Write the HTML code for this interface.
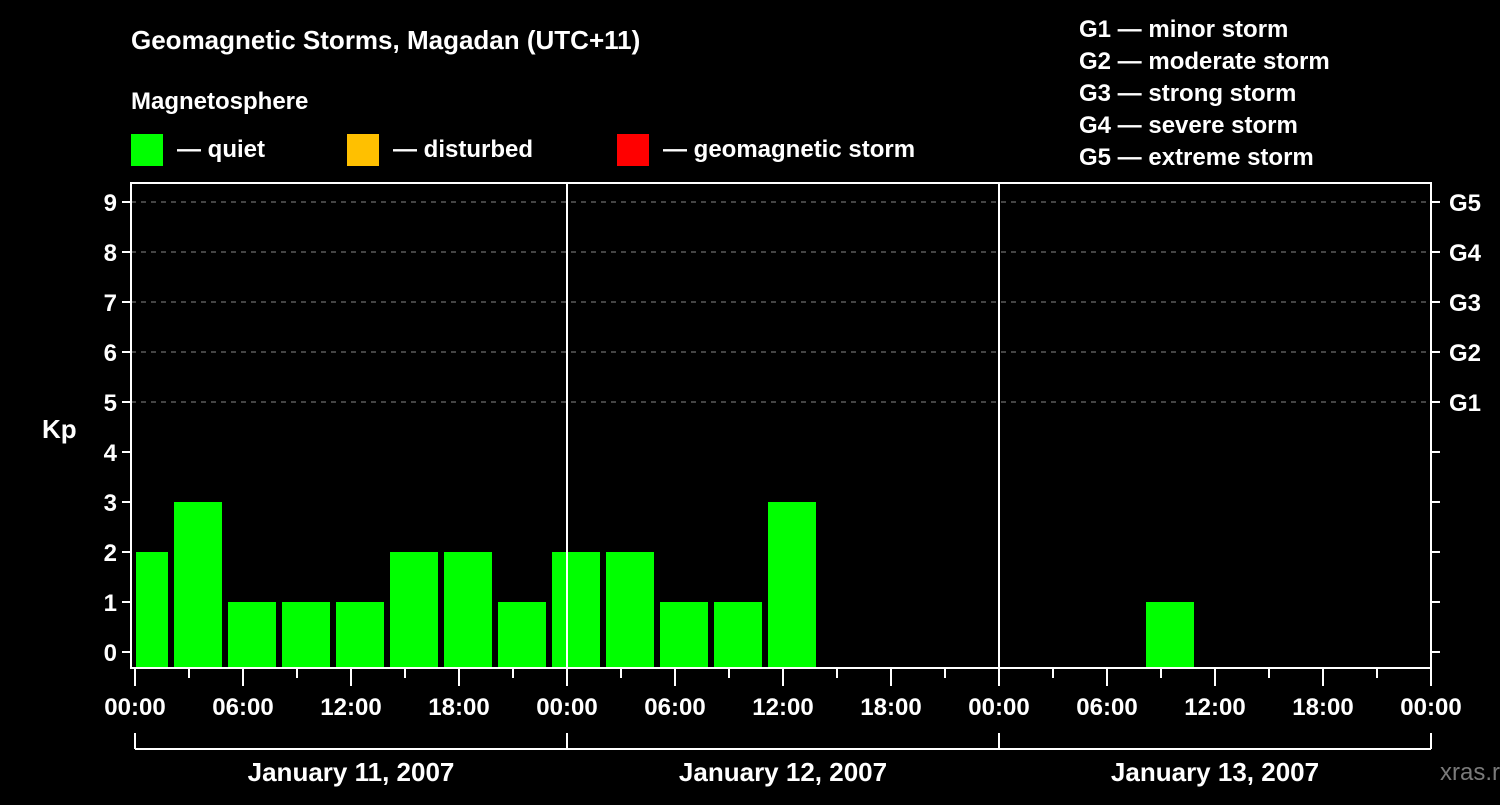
<!DOCTYPE html>
<html><head><meta charset="utf-8"><style>
body{margin:0;background:#000;width:1500px;height:800px;overflow:hidden}
svg text{font-family:"Liberation Sans",sans-serif;font-weight:bold;fill:#fff}
</style></head><body>
<svg id="c" width="1500" height="800">
<text x="131" y="49" font-size="26">Geomagnetic Storms, Magadan (UTC+11)</text>
<text x="131" y="109" font-size="24">Magnetosphere</text>
<g><rect x="131" y="134" width="32" height="32" fill="#00ff00"/><text x="177" y="157" font-size="24">— quiet</text></g>
<g><rect x="347" y="134" width="32" height="32" fill="#ffc000"/><text x="393" y="157" font-size="24">— disturbed</text></g>
<g><rect x="617" y="134" width="32" height="32" fill="#ff0000"/><text x="663" y="157" font-size="24">— geomagnetic storm</text></g>
<g font-size="24">
<text x="1079" y="37">G1 — minor storm</text><text x="1079" y="69">G2 — moderate storm</text><text x="1079" y="101">G3 — strong storm</text><text x="1079" y="133">G4 — severe storm</text><text x="1079" y="165">G5 — extreme storm</text></g>
<text x="42" y="438" font-size="26">Kp</text>
<text x="1440" y="780" font-size="24" fill="#888" style="fill:#7a7a7a;font-weight:normal">xras.ru</text>
<g id="g"></g>
</svg>
<script>
const kpValues=[2,3,1,1,1,2,2,1,2,2,1,1,3,null,null,null,null,null,null,1,null,null,null,null];
const dayLabels=["January 11, 2007","January 12, 2007","January 13, 2007"];
const hourLabels=["00:00","06:00","12:00","18:00"];
const gLabels=["G1","G2","G3","G4","G5"];
const X0=135,PH=18,L=131,R=1431,T=183,B=668;
const x=h=>X0+h*PH, y=k=>652-k*50;
const g=document.getElementById('g');
const NS='http://www.w3.org/2000/svg';
function mk(t,a,txt){const e=document.createElementNS(NS,t);for(const k in a)e.setAttribute(k,a[k]);if(txt!=null)e.textContent=txt;g.appendChild(e);return e;}
for(let k=0;k<=9;k++){
 if(k>=5){const l=mk('line',{x1:L,x2:R,y1:y(k),y2:y(k),stroke:'#888','stroke-width':1,'stroke-dasharray':'5,5'});}
 const t=mk('line',{x1:122,x2:L,y1:y(k),y2:y(k),stroke:'#fff','stroke-width':2});
 const t2=mk('line',{x1:R,x2:1440,y1:y(k),y2:y(k),stroke:'#fff','stroke-width':2});
 const tl=mk('text',{x:117,y:y(k)+9,'font-size':24,'text-anchor':'end'},String(k));
}
gLabels.forEach((s,i)=>{const e=mk('text',{x:1449,y:y(5+i)+9,'font-size':24},s);});
kpValues.forEach((v,i)=>{if(v==null)return;const c=x(3*i+0.5);let x1=Math.max(c-24,L+5),x2=c+24;
 const col=v>=5?'#ff0000':(v>=4?'#ffc000':'#00ff00');
 const r=mk('rect',{x:x1,y:y(v),width:x2-x1,height:B-y(v),fill:col});});
for(let d=1;d<3;d++){const l=mk('line',{x1:x(24*d),x2:x(24*d),y1:T,y2:B,stroke:'#fff','stroke-width':2});}
const f=mk('rect',{x:L,y:T,width:R-L,height:B-T,fill:'none',stroke:'#fff','stroke-width':2});
for(let h=0;h<=72;h+=3){const long=h%6==0;const t=mk('line',{x1:x(h),x2:x(h),y1:B,y2:long?686:678,stroke:'#fff','stroke-width':2});
 if(long){const e=mk('text',{x:x(h),y:715,'font-size':24,'text-anchor':'middle'},hourLabels[(h/6)%4]);}}
const br=mk('line',{x1:x(0),x2:x(72),y1:749,y2:749,stroke:'#fff','stroke-width':2});
for(let d=0;d<=3;d++){const t=mk('line',{x1:x(24*d),x2:x(24*d),y1:733,y2:749,stroke:'#fff','stroke-width':2});}
dayLabels.forEach((s,d)=>{const e=mk('text',{x:x(24*d+12),y:781,'font-size':26,'text-anchor':'middle'},s);});
</script>
</body></html>
